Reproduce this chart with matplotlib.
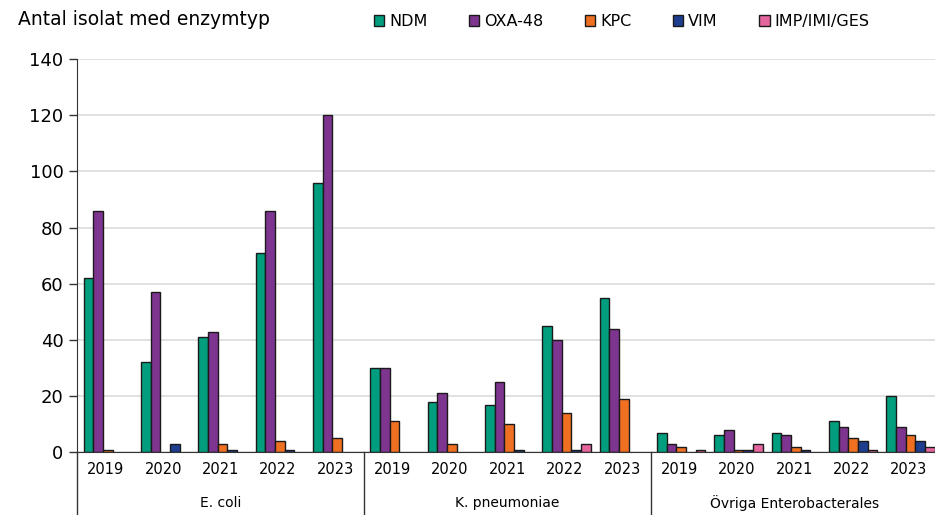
import numpy as np
import matplotlib.pyplot as plt
import matplotlib.transforms as mtransforms
from matplotlib.patches import Patch

plt.rcParams['font.family'] = ['DejaVu Sans']

years = ['2019', '2020', '2021', '2022', '2023']
groups = ['E. coli', 'K. pneumoniae', 'Övriga Enterobacterales']
enzymes = ['NDM', 'OXA-48', 'KPC', 'VIM', 'IMP/IMI/GES']
colors = ['#009E7E', '#7E3590', '#F07022', '#1D3D8F', '#E5659F']

# values per enzyme: E. coli 2019-2023, K. pneumoniae 2019-2023, Övriga 2019-2023
ndm = [62, 32, 41, 71, 96, 30, 18, 17, 45, 55, 7, 6, 7, 11, 20]
oxa48 = [86, 57, 43, 86, 120, 30, 21, 25, 40, 44, 3, 8, 6, 9, 9]
kpc = [1, 0, 3, 4, 5, 11, 3, 10, 14, 19, 2, 1, 2, 5, 6]
vim = [0, 3, 1, 1, 0, 0, 0, 1, 1, 0, 0, 1, 1, 4, 4]
imp = [0, 0, 0, 0, 0, 0, 0, 0, 3, 0, 1, 3, 0, 1, 2]
series = [ndm, oxa48, kpc, vim, imp]

fig = plt.figure(figsize=(9.35, 5.15), dpi=100)
ax = fig.add_axes([0.0827, 0.1217, 0.92, 0.7637])

x = np.arange(len(ndm))
w = 0.168
for j, (vals, col) in enumerate(zip(series, colors)):
    # zero counts get no outline so they don't show as a line
    lw = [1.0 if v > 0 else 0 for v in vals]
    ax.bar(x + (j - 2) * w + 0.03, vals, width=w, color=col, edgecolor='#1a1a1a',
           linewidth=lw, zorder=3)

ax.set_xlim(-0.5, len(ndm) - 0.5)
ax.set_ylim(0, 140)
ax.set_yticks(range(0, 141, 20))
ax.tick_params(axis='y', labelsize=13, length=6, width=1, colors='#333333',
               labelcolor='black', pad=4)
ax.yaxis.grid(True, color='#dedede', linewidth=1.3, zorder=0)
ax.set_axisbelow(True)

ax.set_xticks(x)
ax.set_xticklabels(years * len(groups), fontsize=10.5)
ax.tick_params(axis='x', length=0, pad=7)

for s in ['top', 'right']:
    ax.spines[s].set_visible(False)
ax.spines['left'].set_color('#333333')
ax.spines['bottom'].set_color('#333333')
ax.spines['left'].set_zorder(5)
ax.spines['bottom'].set_zorder(5)

trans = mtransforms.blended_transform_factory(ax.transData, ax.transAxes)
for sep in [-0.5, 4.5, 9.5]:
    ax.plot([sep, sep], [0, -0.2], transform=trans, color='#333333',
            linewidth=1, clip_on=False)
for i, g in enumerate(groups):
    ax.text(i * 5 + 2, -0.128, g, transform=trans, ha='center', va='center',
            fontsize=10)

fig.text(0.019, 0.963, 'Antal isolat med enzymtyp', fontsize=13.5,
         ha='left', va='center')

handles = [Patch(facecolor=c, edgecolor='#1a1a1a', linewidth=1.0, label=n)
           for c, n in zip(colors, enzymes)]
fig.legend(handles=handles, loc='center', bbox_to_anchor=(0.665, 0.958), ncol=5,
           frameon=False, fontsize=11.5, handlelength=0.65, handleheight=0.65,
           handletextpad=0.3, columnspacing=2.6)

fig.savefig('out.png', dpi=100)
